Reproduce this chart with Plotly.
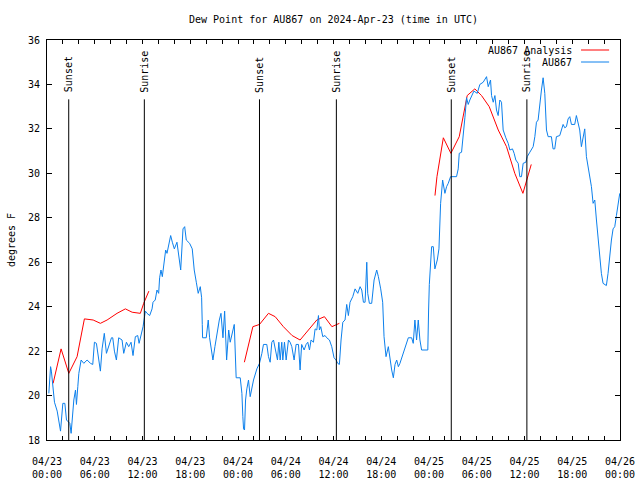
import pandas as pd
import plotly.graph_objects as go

START = pd.Timestamp("2024-04-23 00:00")

# Observed dew point (AU867): hours since start, degrees F
obs_hours = [0.23, 0.45, 0.55, 0.68, 0.94, 1.28, 1.49, 1.7, 1.99, 2.24, 2.45, 2.87, 3.03, 3.16, 3.37, 3.58, 3.7, 3.87, 4.0, 4.29,
             4.62, 5.04, 5.46, 5.75, 5.96, 6.21, 6.5, 6.71, 6.92, 7.2, 7.47, 7.76, 8.1, 8.26, 8.47, 8.72, 9.01, 9.43, 9.64, 9.98,
             10.27, 10.56, 10.81, 11.1, 11.4, 11.57, 11.86, 12.07, 12.36, 12.57, 12.9, 13.2, 13.32, 13.6, 13.82, 14.03, 14.15, 14.32, 14.49, 14.74,
             14.91, 15.08, 15.33, 15.54, 15.75, 16.0, 16.33, 16.58, 16.8, 17.09, 17.3, 17.5, 17.92, 18.25, 18.5, 18.76, 19.0, 19.26, 19.43, 19.51,
             19.55, 20.01, 20.26, 20.43, 20.72, 20.85, 21.1, 21.35, 21.65, 21.86, 22.11, 22.32, 22.49, 22.57, 22.83, 23.02, 23.53, 23.65, 23.77, 24.28,
             24.49, 24.61, 24.7, 24.82, 24.95, 25.11, 25.32, 25.53, 25.74, 25.95, 26.37, 26.7, 27.0, 27.2, 27.62, 27.83, 28.04, 28.25, 28.46, 28.67,
             28.96, 29.13, 29.3, 29.5, 29.63, 29.84, 30.05, 30.34, 30.55, 30.76, 31.05, 31.3, 31.6, 31.8, 31.89, 32.0, 32.31, 32.56, 32.77, 32.98,
             33.18, 33.48, 33.69, 33.9, 34.11, 34.23, 34.4, 34.65, 34.94, 35.15, 35.49, 35.78, 36.07, 36.32, 36.53, 36.74, 36.95, 37.17, 37.45, 37.66,
             37.87, 38.08, 38.42, 38.71, 39.05, 39.34, 39.55, 39.76, 39.97, 40.18, 40.3, 40.51, 40.8, 40.93, 41.1, 41.43, 41.64, 41.93, 42.18, 42.35,
             42.6, 42.89, 43.1, 43.31, 43.52, 43.73, 43.94, 44.15, 44.35, 44.77, 45.19, 45.4, 45.82, 46.02, 46.23, 46.44, 46.65, 46.86, 47.07, 47.85,
             47.95, 48.04, 48.33, 48.54, 48.74, 49.04, 49.25, 49.46, 49.71, 49.87, 50.0, 50.21, 50.42, 50.71, 51.46, 51.67, 51.8, 52.09, 52.3, 52.51,
             52.72, 52.93, 53.13, 53.34, 53.64, 54.06, 54.18, 54.39, 54.81, 55.02, 55.23, 55.44, 55.73, 55.86, 56.07, 56.28, 56.48, 56.69, 56.9, 57.11,
             57.32, 57.65, 57.95, 58.16, 58.49, 58.7, 58.91, 59.21, 59.41, 59.62, 59.83, 60.17, 60.34, 60.67, 61.09, 61.3, 61.5, 61.71, 61.92, 62.13,
             62.34, 62.55, 62.76, 62.97, 63.38, 63.59, 63.8, 64.01, 64.43, 64.85, 65.06, 65.27, 65.48, 65.69, 65.9, 66.31, 66.52, 66.73, 66.94, 67.15,
             67.36, 67.57, 67.78, 67.99, 68.2, 68.41, 68.62, 68.83, 69.04, 69.25, 69.45, 69.66, 69.87, 70.29, 70.5, 70.71, 70.92, 71.13, 71.34, 71.55,
             71.76, 71.97]
obs_values = [20.1, 21.3, 21.1, 20.6, 19.7, 19.3, 18.75, 18.4, 19.65, 19.65, 18.9, 18.75, 18.3, 19.0, 19.8, 20.25, 19.6, 20.4, 21.0, 21.6,
              21.45, 21.6, 21.45, 21.4, 22.4, 22.35, 21.5, 21.1, 22.1, 22.8, 21.9, 22.2, 22.6, 22.6, 22.0, 21.6, 22.6, 22.5, 21.9, 22.4,
              22.2, 22.4, 21.8, 22.65, 22.7, 22.35, 22.8, 23.1, 23.8, 23.7, 23.6, 23.9, 24.2, 24.3, 24.75, 24.6, 25.3, 25.65, 25.35, 26.1,
              26.55, 26.4, 26.9, 27.2, 26.9, 26.6, 26.9, 26.3, 25.65, 27.5, 27.6, 27.0, 26.85, 26.6, 25.65, 25.1, 24.6, 24.9, 24.4, 23.2,
              22.6, 22.6, 23.4, 22.6, 22.0, 21.6, 22.2, 22.8, 23.4, 23.7, 22.6, 23.8, 22.4, 21.6, 22.95, 22.4, 23.2, 21.4, 20.8, 20.8,
              20.1, 19.05, 18.5, 18.45, 19.8, 20.3, 20.7, 19.95, 20.4, 20.7, 21.2, 21.45, 21.9, 22.3, 22.3, 21.75, 21.5, 22.4, 22.5, 22.05,
              21.6, 22.4, 21.6, 22.4, 21.6, 22.4, 21.6, 22.5, 22.4, 22.2, 21.6, 22.3, 22.3, 21.15, 21.6, 22.3, 22.05, 22.3, 22.4, 22.05,
              22.5, 22.4, 23.0, 22.95, 23.6, 22.95, 23.1, 22.65, 22.7, 22.6, 22.5, 22.2, 21.7, 21.6, 21.45, 21.4, 22.5, 23.3, 23.4, 24.1,
              23.6, 24.2, 24.45, 24.8, 24.6, 24.9, 24.75, 24.2, 24.2, 26.0, 24.6, 24.15, 24.15, 24.75, 25.2, 25.65, 25.35, 24.8, 24.2, 22.65,
              21.75, 22.2, 21.6, 21.15, 20.8, 21.4, 21.6, 21.3, 21.45, 21.9, 22.3, 22.6, 22.6, 22.35, 23.4, 22.5, 23.4, 22.5, 22.05, 22.05,
              23.85, 25.0, 26.7, 26.7, 25.7, 26.1, 26.6, 28.65, 29.7, 29.4, 29.1, 29.4, 29.55, 29.85, 29.85, 30.2, 30.9, 30.95, 31.95, 32.5,
              33.4, 33.1, 33.3, 33.5, 33.7, 33.6, 33.8, 34.0, 34.1, 34.2, 34.35, 33.9, 34.2, 33.5, 33.2, 33.5, 32.85, 32.6, 33.3, 33.2,
              31.95, 31.6, 31.35, 31.05, 31.1, 30.9, 30.6, 30.45, 29.85, 29.85, 30.45, 30.5, 30.75, 30.95, 31.2, 31.65, 32.3, 32.4, 33.15, 33.75,
              34.3, 33.6, 31.95, 31.65, 31.65, 31.1, 31.1, 31.65, 31.7, 32.2, 32.05, 32.1, 32.45, 32.55, 32.2, 32.2, 32.6, 32.2, 31.95, 31.2,
              31.65, 32.0, 30.75, 30.3, 29.85, 29.4, 28.65, 28.8, 27.9, 27.0, 26.25, 25.5, 25.05, 24.95, 25.5, 26.4, 27.0, 27.5, 27.6, 28.1,
              28.7, 29.1]

# Analysis (AU867 Analysis): three separate runs, None marks a gap
ana_hours = [0.77, 1.77, 2.74, 3.78, 4.7, 5.8, 6.71, 7.55, 8.8, 9.85, 10.7, 11.73, 12.15, 12.8, None,
             24.8, 25.87, 26.7, 27.83, 28.67, 29.7, 30.8, 31.8, 32.85, 33.9, 34.86, 35.8, 36.74, None,
             48.75, 49.0, 49.8, 50.75, 51.8, 52.8, 53.76, 54.6, 55.57, 56.7, 57.74, 58.78, 59.8, 60.3, 60.85]
ana_values = [20.55, 22.1, 21.0, 21.75, 23.45, 23.4, 23.25, 23.4, 23.7, 23.9, 23.75, 23.7, 24.15, 24.7, None,
              21.5, 23.1, 23.2, 23.7, 23.55, 23.1, 22.7, 22.5, 22.95, 23.4, 23.55, 23.1, 23.25, None,
              29.0, 29.85, 31.6, 30.9, 31.65, 33.5, 33.8, 33.5, 33.0, 31.95, 31.2, 30.0, 29.1, 29.7, 30.4]

# Sun events: hours since start
sun_hours = [2.73, 12.23, 26.7, 36.36, 50.8, 60.3]
sun_labels = ["Sunset", "Sunrise", "Sunset", "Sunrise", "Sunset", "Sunrise"]

series_names = ["AU867 Analysis", "AU867"]
series_colors = ["#ff0000", "#0c80ec"]


def to_time(hours):
    return [None if h is None else START + pd.Timedelta(hours=h) for h in hours]


FONT = "DejaVu Sans Mono"
fig = go.Figure()
fig.add_trace(go.Scatter(x=to_time(ana_hours), y=ana_values, mode="lines",
                         line=dict(color=series_colors[0], width=1), connectgaps=False,
                         name=series_names[0], showlegend=False, hoverinfo="skip"))
fig.add_trace(go.Scatter(x=to_time(obs_hours), y=obs_values, mode="lines",
                         line=dict(color=series_colors[1], width=1),
                         name=series_names[1], showlegend=False, hoverinfo="skip"))

for t, lab in zip(to_time(sun_hours), sun_labels):
    fig.add_shape(type="line", xref="x", yref="y", x0=t, x1=t, y0=18, y1=33.33,
                  line=dict(color="black", width=1))
    fig.add_annotation(x=t, y=33.55, xref="x", yref="y", text=lab, textangle=-90,
                       showarrow=False, xanchor="center", yanchor="bottom",
                       font=dict(family=FONT, size=10, color="black"))

# Legend (gnuplot style: text on left, sample on right)
for i, (name, col) in enumerate(zip(series_names, series_colors)):
    yp = 0.975 - i * 0.03
    fig.add_annotation(x=0.9198, y=yp, xref="paper", yref="paper", text=name, showarrow=False,
                       xanchor="right", yanchor="middle", font=dict(family=FONT, size=10, color="black"))
    fig.add_shape(type="line", xref="paper", yref="paper", x0=0.932, x1=0.981, y0=yp, y1=yp,
                  line=dict(color=col, width=1))

fig.update_layout(
    width=640, height=480, autosize=False,
    margin=dict(l=47, r=20, t=40, b=40, pad=0),
    paper_bgcolor="white", plot_bgcolor="white",
    font=dict(family=FONT, size=10, color="black"),
    title=dict(text="Dew Point for AU867 on 2024-Apr-23 (time in UTC)", x=0.5, xanchor="center", xref="paper",
               y=1 - 19 / 480, yanchor="middle", yref="container",
               font=dict(family=FONT, size=10, color="black")),
    showlegend=False,
)
fig.update_xaxes(
    type="date", range=[START, START + pd.Timedelta(hours=72)], automargin=False,
    tick0=START, dtick=6 * 3600 * 1000, tickformat="%m/%d<br>%H:%M",
    ticks="inside", ticklen=4, tickcolor="black", showline=True, linecolor="black", linewidth=1,
    mirror="ticks", showgrid=False, zeroline=False, ticklabelstandoff=12,
    minor=dict(dtick=2 * 3600 * 1000, ticks="inside", ticklen=4, tickcolor="black", showgrid=False),
    tickfont=dict(family=FONT, size=10),
)
fig.update_yaxes(
    range=[18, 36], dtick=2, tick0=18, ticks="inside", ticklen=5, tickcolor="black", automargin=False,
    showline=True, linecolor="black", linewidth=1, mirror="ticks", showgrid=False, zeroline=False,
    ticklabelstandoff=4,
    title=dict(text="degrees F", font=dict(family=FONT, size=10), standoff=10),
    tickfont=dict(family=FONT, size=10),
)

fig.write_html("out.html", config={"displayModeBar": False},
               post_script="document.body.style.margin='0';document.body.style.overflow='hidden';")
